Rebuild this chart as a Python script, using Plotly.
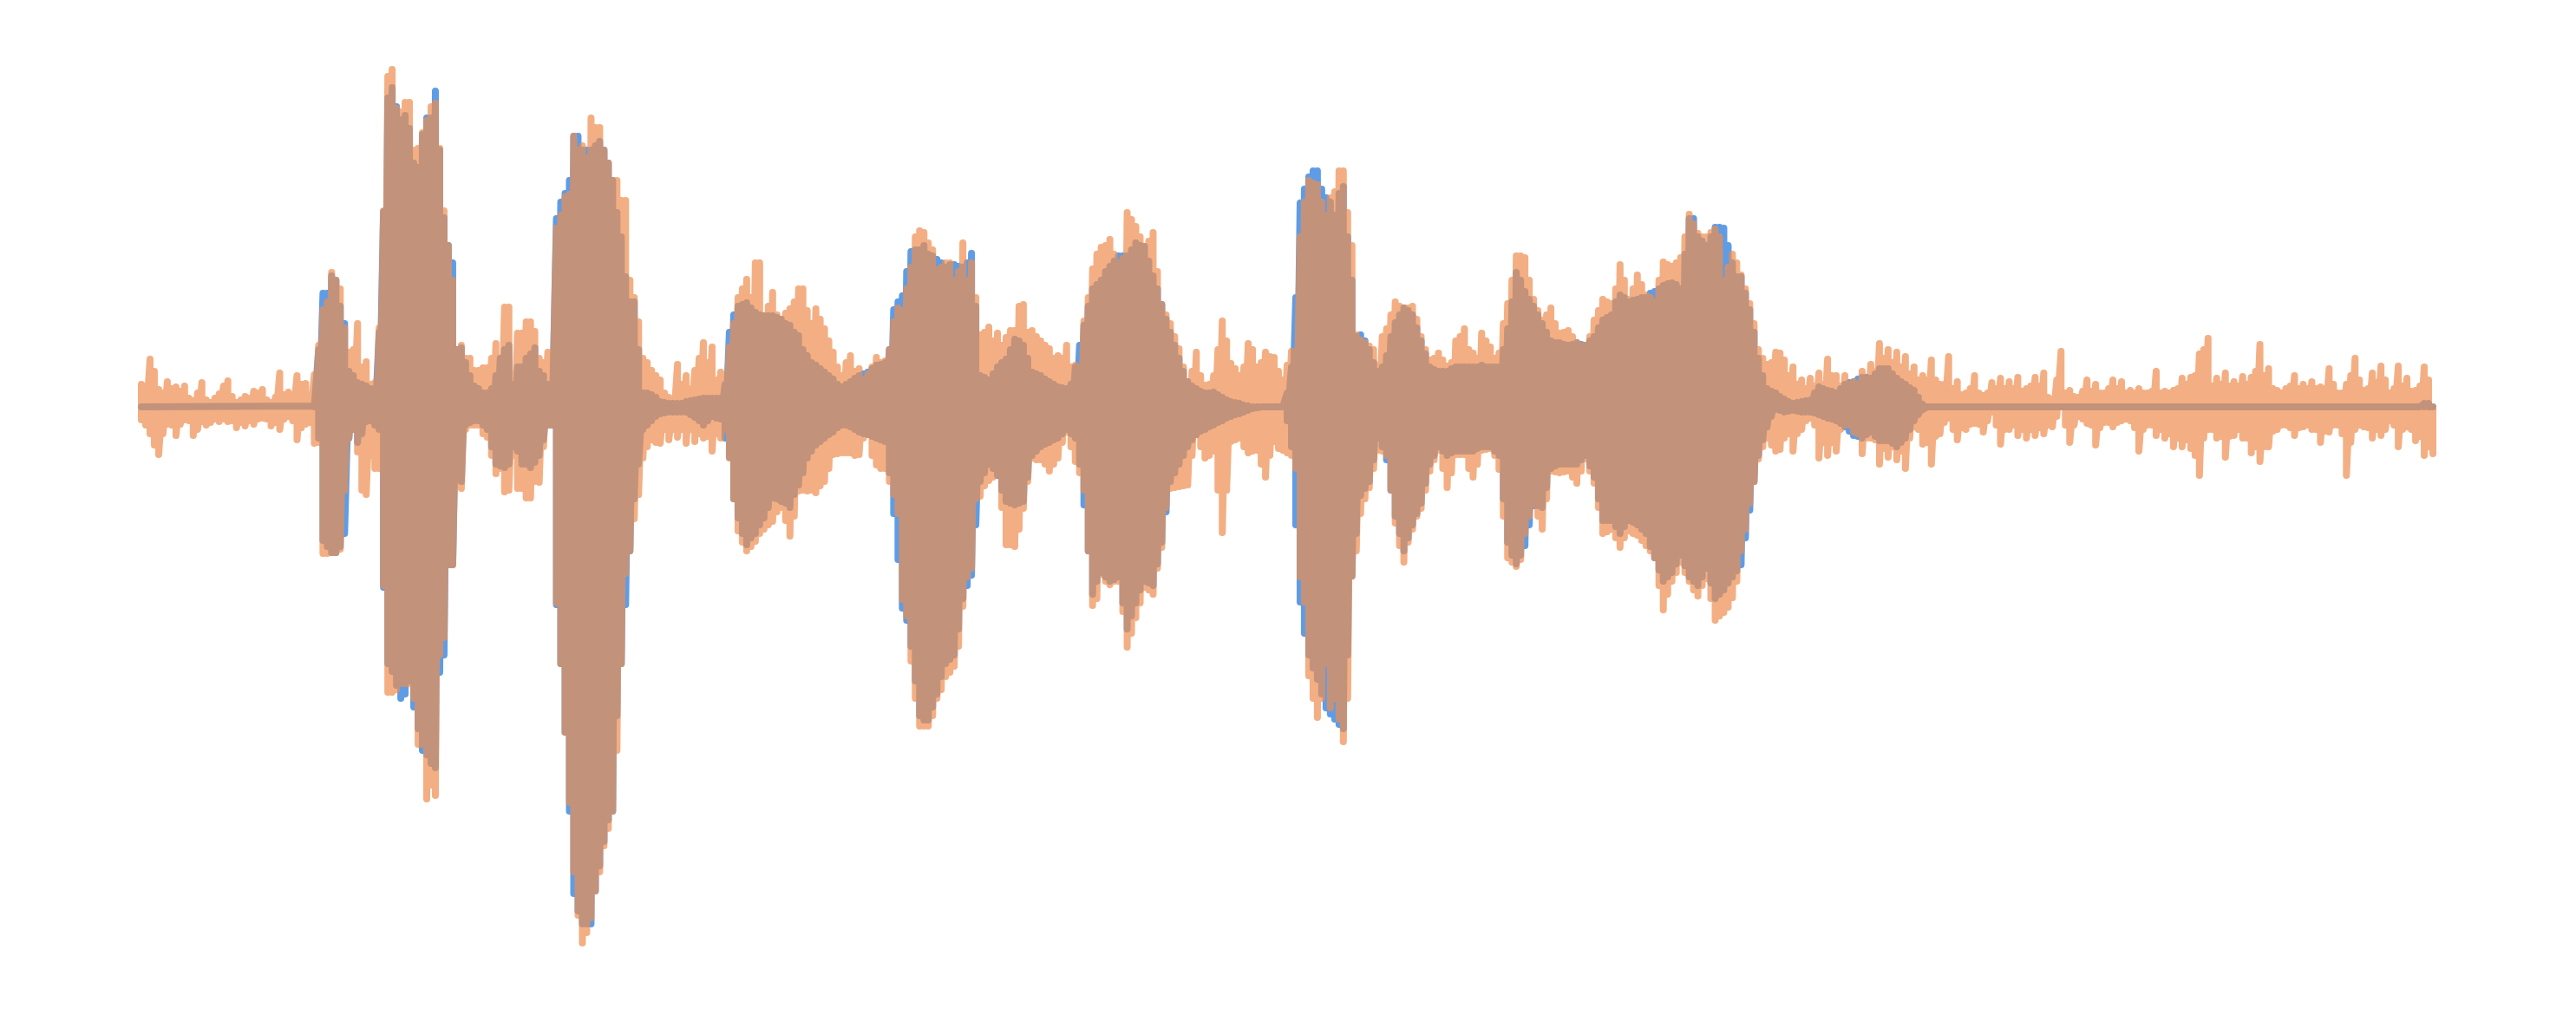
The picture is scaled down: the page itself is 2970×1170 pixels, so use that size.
import plotly.graph_objects as go

# Amplitude envelope per time bin (upper and lower excursion of each waveform).
orange_top = [
    30,59,24,33,27,28,11,32,9,19,
    34,9,16,22,24,9,43,21,40,31,
    41,116,159,140,67,100,56,32,230,393,
    344,355,302,334,354,230,150,75,60,46,
    49,77,119,42,89,102,60,67,210,246,
    316,305,337,326,285,265,242,130,60,46,
    35,15,53,40,46,78,73,44,73,130,
    151,170,109,136,105,117,140,115,117,94,
    67,40,63,48,42,61,57,102,115,165,
    207,193,162,170,150,193,170,87,96,89,
    84,92,122,92,80,71,63,75,52,103,
    163,188,197,170,228,212,189,205,122,100,
    71,33,67,29,40,103,54,40,77,50,
    67,61,35,68,200,265,260,225,252,276,
    190,81,74,52,94,125,118,120,85,58,
    66,51,80,94,66,89,73,66,123,178,
    176,128,104,118,89,92,78,75,104,128,
    123,168,128,156,133,125,171,166,176,226,
    204,200,209,150,180,156,123,70,53,67,
    58,50,35,37,43,59,40,40,33,45,
    53,77,70,67,62,50,40,58,30,62,
    33,20,40,17,32,37,33,38,25,38,
    43,13,68,23,15,35,30,20,35,33,
    23,25,20,45,22,23,37,38,65,83,
    37,43,33,39,38,76,48,23,25,40,
    30,33,27,48,20,30,60,23,43,51,
    20,51,37,23,50,3,
]
orange_bottom = [
    19,35,59,24,37,19,37,21,22,21,
    21,28,26,24,17,26,30,15,42,24,
    46,173,172,168,40,56,105,75,210,333,
    323,323,393,456,452,270,186,98,25,25,
    39,81,102,60,98,109,91,25,230,379,
    540,622,593,540,490,400,196,133,63,42,
    46,42,39,46,44,40,55,40,63,147,
    170,159,145,136,120,153,101,101,103,90,
    59,57,57,59,36,71,75,105,226,297,
    372,372,340,315,303,234,190,107,89,82,
    163,165,121,63,65,78,63,33,67,100,
    233,197,209,205,281,247,212,220,166,98,
    96,94,36,63,55,149,44,40,57,54,
    85,44,54,60,200,314,362,300,340,390,
    199,127,97,54,60,138,183,145,121,78,
    54,97,59,59,85,54,52,76,178,188,
    150,116,145,78,80,78,92,64,92,150,
    145,166,147,152,164,178,238,205,183,205,
    222,202,250,241,224,170,115,64,40,55,
    40,55,30,17,63,60,55,25,33,58,
    40,70,62,65,75,27,47,70,35,17,
    42,30,23,33,10,47,30,37,40,37,
    35,27,3,45,15,23,48,22,27,20,
    20,55,25,37,40,50,50,52,83,30,
    40,62,37,40,57,67,50,30,25,37,
    27,30,45,33,25,83,30,27,40,37,
    20,50,27,43,60,58,
]
blue_top = [
    4,1,1,1,1,1,1,1,1,1,
    1,1,1,1,1,1,1,1,2,3,
    5,135,155,120,45,32,28,25,229,372,
    335,325,280,337,368,222,170,72,40,25,
    20,40,70,30,50,65,45,30,221,250,
    316,300,300,310,285,228,154,125,20,18,
    10,8,8,10,12,14,14,14,90,120,
    124,113,109,109,105,98,86,63,52,44,
    36,27,33,40,44,52,55,116,132,183,
    185,180,174,165,168,165,181,40,35,50,
    59,82,75,44,40,33,27,25,50,98,
    140,150,166,178,178,193,189,155,122,90,
    60,33,25,20,21,15,10,8,5,4,
    3,3,3,50,239,269,276,245,225,258,
    150,87,70,45,63,101,118,110,80,50,
    45,45,50,50,50,52,50,50,94,159,
    137,120,100,80,78,75,78,75,85,104,
    110,133,125,128,130,137,144,147,140,221,
    200,190,211,210,170,154,116,60,25,20,
    13,8,10,12,27,23,20,30,33,38,
    37,48,48,37,30,23,7,1,1,1,
    1,1,1,1,1,1,1,1,1,1,
    1,1,1,1,1,1,1,1,1,1,
    1,1,1,1,1,1,1,1,1,1,
    1,1,1,1,1,1,1,1,1,1,
    1,1,1,1,1,1,1,1,1,1,
    1,1,1,1,8,1,
]
blue_bottom = [
    1,1,1,1,1,1,1,1,1,1,
    1,1,1,1,1,1,1,1,2,3,
    4,158,172,165,40,45,21,25,212,309,
    340,320,375,405,420,290,186,90,22,20,
    30,70,74,50,70,74,60,25,232,379,
    565,600,600,533,480,360,232,110,30,20,
    12,10,10,10,16,25,15,18,62,132,
    163,150,132,109,113,120,94,63,48,40,
    33,25,27,33,36,40,44,127,236,280,
    360,365,335,300,290,225,198,90,70,83,
    113,117,113,60,50,45,40,30,40,117,
    220,195,205,200,260,230,205,210,160,90,
    70,50,36,30,25,20,15,12,8,5,
    4,3,3,50,229,290,318,351,364,375,
    199,106,90,40,65,130,170,140,115,70,
    50,60,55,55,55,50,50,60,160,185,
    164,118,120,75,70,70,70,60,85,135,
    135,150,135,140,150,178,205,195,175,200,
    210,190,225,215,200,186,123,60,27,7,
    10,8,10,10,13,17,20,27,37,40,
    33,43,43,50,40,20,7,1,1,1,
    1,1,1,1,1,1,1,1,1,1,
    1,1,1,1,1,1,1,1,1,1,
    1,1,1,1,1,1,1,1,1,1,
    1,1,1,1,1,1,1,1,1,1,
    1,1,1,1,1,1,1,1,1,1,
    1,1,1,1,1,1,
]

# Readings taken half a bin later than the lists above.
orange_top_mid = [
    28,45,20,25,22,14,20,12,14,28,
    16,12,14,20,12,15,18,18,30,18,
    75,125,150,95,70,50,30,95,385,348,
    355,300,320,350,302,190,70,60,46,49,
    60,60,119,89,102,91,55,60,225,249,
    300,291,326,300,265,242,150,102,55,40,
    20,12,30,25,60,55,35,40,100,140,
    130,170,120,110,112,125,140,100,105,80,
    50,55,45,35,50,55,70,118,140,200,
    205,185,165,170,160,150,130,90,80,75,
    92,120,90,85,75,60,60,50,50,130,
    180,190,180,175,220,200,195,160,110,85,
    50,45,40,30,70,80,48,50,70,55,
    62,45,52,68,240,262,240,245,276,228,
    87,78,70,85,110,120,118,105,70,60,
    58,55,85,70,60,80,60,100,150,178,
    150,115,110,100,90,85,75,85,115,125,
    140,150,140,145,130,150,168,170,200,215,
    200,205,200,165,170,140,100,60,55,66,
    40,30,25,28,30,40,28,30,30,36,
    45,60,55,50,42,35,35,35,30,25,
    18,25,20,20,25,25,25,22,28,28,
    15,35,20,16,22,22,20,25,25,20,
    20,20,22,20,20,25,30,40,70,28,
    30,28,28,30,45,40,25,20,28,25,
    25,25,25,30,20,40,35,25,32,35,
    25,28,22,28,35,
]
orange_bottom_mid = [
    25,48,35,25,24,20,30,25,18,18,
    20,22,20,18,18,22,18,20,28,22,
    45,173,172,100,30,100,60,75,333,330,
    323,340,393,440,290,186,95,30,25,35,
    60,75,100,98,109,90,50,25,300,460,
    590,610,562,510,470,300,170,105,50,45,
    30,30,30,30,35,38,35,30,110,160,
    165,150,140,125,135,130,100,100,95,75,
    58,57,60,40,60,75,90,127,245,340,
    372,360,330,310,280,200,110,95,85,120,
    163,145,90,65,70,70,45,50,80,170,
    225,205,205,240,265,230,215,190,120,97,
    95,60,50,60,100,100,42,50,55,70,
    60,52,57,75,229,340,340,351,364,340,
    170,110,75,55,100,164,160,130,100,65,
    75,80,59,75,70,53,60,130,183,180,
    130,130,110,79,79,85,78,78,120,148,
    155,155,150,158,170,210,220,195,195,215,
    210,225,245,235,205,145,90,50,48,53,
    35,35,20,25,45,45,30,25,35,40,
    42,52,50,55,40,30,45,38,22,30,
    28,24,24,20,25,30,25,30,30,28,
    25,15,25,25,18,25,28,22,22,18,
    28,30,25,30,35,40,42,60,40,30,
    38,38,30,40,50,50,32,25,28,28,
    25,30,32,25,35,45,25,28,30,30,
    25,30,30,38,50,
]
blue_top_mid = [
    2,1,1,1,1,1,1,1,1,1,
    1,1,1,1,1,1,1,1,2,3,
    70,135,150,100,40,30,25,90,360,350,
    340,285,318,337,300,190,70,55,28,20,
    25,60,75,50,60,72,40,28,240,265,
    316,300,305,300,265,200,125,70,20,15,
    9,8,8,11,13,14,14,30,110,122,
    118,110,109,107,100,90,70,55,48,40,
    30,30,37,42,48,53,70,125,160,185,
    190,178,170,168,166,170,120,38,42,55,
    70,80,60,42,36,30,26,30,75,120,
    145,160,172,178,185,190,172,140,105,75,
    45,28,22,20,18,12,9,6,4,4,
    3,3,20,130,255,276,255,240,250,200,
    85,80,55,50,85,110,115,95,65,47,
    45,48,50,50,50,50,50,70,125,150,
    128,110,90,78,76,76,76,80,95,107,
    125,130,127,130,135,140,146,145,180,221,
    195,200,211,190,154,135,90,40,22,16,
    10,9,11,20,25,22,25,32,36,38,
    42,48,42,33,26,15,3,1,1,1,
    1,1,1,1,1,1,1,1,1,1,
    1,1,1,1,1,1,1,1,1,1,
    1,1,1,1,1,1,1,1,1,1,
    1,1,1,1,1,1,1,1,1,1,
    1,1,1,1,1,1,1,1,1,1,
    1,1,1,1,8,
]
blue_bottom_mid = [
    1,1,1,1,1,1,1,1,1,1,
    1,1,1,1,1,1,1,1,2,3,
    40,165,172,150,30,35,20,30,300,325,
    335,350,400,415,310,186,85,25,20,25,
    50,72,70,55,70,68,42,25,300,470,
    585,600,562,505,470,300,170,70,25,15,
    11,10,10,13,20,20,17,40,110,150,
    155,140,120,110,115,105,80,55,44,36,
    28,25,30,35,38,42,80,180,250,320,
    365,350,315,295,260,210,140,80,75,100,
    115,115,85,55,47,42,35,35,70,170,
    205,200,203,230,245,215,207,185,125,80,
    60,42,32,27,22,17,13,10,6,4,
    3,3,20,140,265,305,335,358,370,290,
    150,98,65,50,100,150,155,127,92,60,
    55,57,55,55,52,50,55,110,175,175,
    140,118,97,72,70,70,65,72,110,135,
    142,142,137,145,165,192,200,185,187,205,
    200,207,220,207,193,155,90,42,15,8,
    9,9,10,11,15,18,23,32,38,36,
    38,43,46,45,30,13,3,1,1,1,
    1,1,1,1,1,1,1,1,1,1,
    1,1,1,1,1,1,1,1,1,1,
    1,1,1,1,1,1,1,1,1,1,
    1,1,1,1,1,1,1,1,1,1,
    1,1,1,1,1,1,1,1,1,1,
    1,1,1,1,1,
]

assert [len(orange_top), len(orange_bottom), len(blue_top), len(blue_bottom)] == [266] * 4
assert [len(orange_top_mid), len(orange_bottom_mid), len(blue_top_mid), len(blue_bottom_mid)] == [265] * 4

LINE_W = 8


def waveform(top, bottom, top_mid, bottom_mid):
    # The amplitudes above were read at the outer edge of the stroke.
    xs, ys = [], []
    for i in range(len(top)):
        xs += [i, i]
        ys += [max(top[i] - LINE_W / 2, 0), -max(bottom[i] - LINE_W / 2, 0)]
        if i < len(top_mid):
            xs += [i + 0.5, i + 0.5]
            ys += [max(top_mid[i] - LINE_W / 2, 0), -max(bottom_mid[i] - LINE_W / 2, 0)]
    return xs, ys


bx, by = waveform(blue_top, blue_bottom, blue_top_mid, blue_bottom_mid)
ox, oy = waveform(orange_top, orange_bottom, orange_top_mid, orange_bottom_mid)

fig = go.Figure()
fig.add_trace(go.Scatter(x=bx, y=by, mode="lines", showlegend=False, hoverinfo="skip",
                         line=dict(color="rgb(94,156,230)", width=LINE_W)))
fig.add_trace(go.Scatter(x=ox, y=oy, mode="lines", showlegend=False, hoverinfo="skip",
                         line=dict(color="rgb(239,142,79)", width=LINE_W), opacity=0.7))
fig.update_layout(
    width=2970, height=1170,
    margin=dict(l=0, r=0, t=0, b=0),
    paper_bgcolor="white", plot_bgcolor="white",
    xaxis=dict(visible=False, range=[-16.35, 281.55]),
    yaxis=dict(visible=False, range=[-701, 469]),
)
page_style = (
    "var s=document.createElement('style');"
    "s.textContent='body{margin:0}.js-line{stroke-linejoin:round!important;"
    "stroke-linecap:round!important}';"
    "document.head.appendChild(s);"
)
fig.write_html("out.html", post_script=page_style, config={"displayModeBar": False})
